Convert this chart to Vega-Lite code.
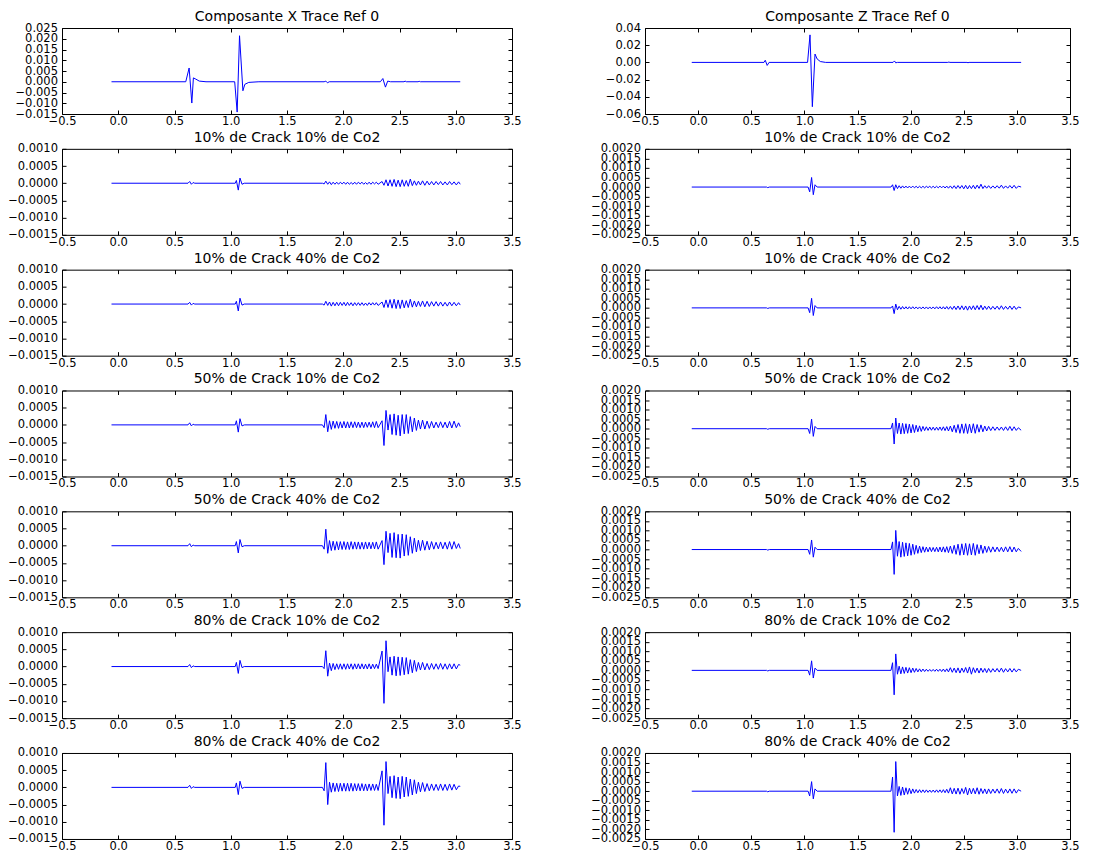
{
"$schema": "https://vega.github.io/schema/vega-lite/v6.json",
"background": "white",
"padding": {"left": 7, "top": 9, "right": 0, "bottom": 0},
"columns": 2,
"spacing": {"row": 34.83, "column": 133},
"bounds": "flush",
"datasets": {
"xr": [{"t":-0.06,"v":0},{"t":0.6,"v":0},{"t":0.63,"v":0.0064},{"t":0.654,"v":-0.0099},{"t":0.668,"v":0.0018},{"t":0.69,"v":0.0012},{"t":0.72,"v":0.0003},{"t":0.78,"v":0},{"t":1.035,"v":0},{"t":1.057,"v":-0.0141},{"t":1.078,"v":0.0214},{"t":1.108,"v":-0.0042},{"t":1.125,"v":-0.0012},{"t":1.16,"v":-0.0003},{"t":1.25,"v":0},{"t":1.83,"v":0},{"t":1.845,"v":0.0003},{"t":1.86,"v":-0.0005},{"t":1.875,"v":0},{"t":2.33,"v":0},{"t":2.352,"v":0.0015},{"t":2.375,"v":-0.0025},{"t":2.395,"v":0.0003},{"t":2.42,"v":0},{"t":2.54,"v":0},{"t":2.55,"v":0.0003},{"t":2.56,"v":0},{"t":2.665,"v":0},{"t":2.675,"v":0.0002},{"t":2.685,"v":0},{"t":3.04,"v":0}],
"zr": [{"t":-0.06,"v":0},{"t":0.62,"v":0},{"t":0.632,"v":0.0025},{"t":0.65,"v":-0.0035},{"t":0.668,"v":0},{"t":1.03,"v":0},{"t":1.053,"v":0.032},{"t":1.075,"v":-0.0515},{"t":1.1,"v":0.0097},{"t":1.12,"v":0.004},{"t":1.15,"v":0.001},{"t":1.2,"v":0},{"t":1.835,"v":0},{"t":1.848,"v":0.0017},{"t":1.86,"v":-0.0005},{"t":1.875,"v":0},{"t":2.35,"v":0},{"t":2.36,"v":0.0004},{"t":2.37,"v":0},{"t":2.53,"v":0},{"t":2.54,"v":-0.0004},{"t":2.55,"v":0},{"t":3.04,"v":0}],
"x1": [{"t":-0.06,"v":0},{"t":0.62,"v":0},{"t":0.635,"v":5e-5},{"t":0.65,"v":-3e-5},{"t":0.665,"v":2e-5},{"t":0.68,"v":0},{"t":1.04,"v":0},{"t":1.05,"v":8e-5},{"t":1.067,"v":-20e-5},{"t":1.082,"v":15e-5},{"t":1.1,"v":-3e-5},{"t":1.12,"v":0},{"t":1.815,"v":0},{"t":1.83,"v":-2e-5},{"t":1.845,"v":6e-5},{"t":1.862,"v":-3e-5},{"t":1.878,"v":4e-5},{"t":1.894,"v":-4e-5},{"t":1.91,"v":3e-5},{"t":1.926,"v":-3e-5},{"t":1.942,"v":3e-5},{"t":1.958,"v":-3e-5},{"t":1.974,"v":3e-5},{"t":1.99,"v":-2e-5},{"t":2.006,"v":3e-5},{"t":2.022,"v":-3e-5},{"t":2.038,"v":3e-5},{"t":2.054,"v":-3e-5},{"t":2.07,"v":2e-5},{"t":2.086,"v":-3e-5},{"t":2.102,"v":3e-5},{"t":2.118,"v":-3e-5},{"t":2.134,"v":3e-5},{"t":2.15,"v":-2e-5},{"t":2.166,"v":3e-5},{"t":2.182,"v":-3e-5},{"t":2.198,"v":2e-5},{"t":2.214,"v":-3e-5},{"t":2.23,"v":3e-5},{"t":2.246,"v":-3e-5},{"t":2.262,"v":3e-5},{"t":2.278,"v":-2e-5},{"t":2.294,"v":3e-5},{"t":2.31,"v":-3e-5},{"t":2.345,"v":5e-5},{"t":2.362,"v":-6e-5},{"t":2.38,"v":10e-5},{"t":2.398,"v":-8e-5},{"t":2.416,"v":10e-5},{"t":2.434,"v":-9e-5},{"t":2.452,"v":11e-5},{"t":2.47,"v":-10e-5},{"t":2.488,"v":9e-5},{"t":2.506,"v":-10e-5},{"t":2.524,"v":10e-5},{"t":2.542,"v":-9e-5},{"t":2.56,"v":8e-5},{"t":2.578,"v":-9e-5},{"t":2.596,"v":12e-5},{"t":2.614,"v":-7e-5},{"t":2.632,"v":7e-5},{"t":2.65,"v":-6e-5},{"t":2.668,"v":6e-5},{"t":2.686,"v":-5e-5},{"t":2.705,"v":7e-5},{"t":2.725,"v":-6e-5},{"t":2.745,"v":6e-5},{"t":2.765,"v":-5e-5},{"t":2.785,"v":5e-5},{"t":2.805,"v":-5e-5},{"t":2.825,"v":5e-5},{"t":2.845,"v":-4e-5},{"t":2.865,"v":5e-5},{"t":2.885,"v":-5e-5},{"t":2.905,"v":4e-5},{"t":2.925,"v":-5e-5},{"t":2.945,"v":5e-5},{"t":2.965,"v":-4e-5},{"t":2.985,"v":4e-5},{"t":3.005,"v":-5e-5},{"t":3.025,"v":4e-5},{"t":3.04,"v":-3e-5}],
"x2": [{"t":-0.06,"v":0},{"t":0.62,"v":0},{"t":0.635,"v":5e-5},{"t":0.65,"v":-3e-5},{"t":0.665,"v":2e-5},{"t":0.68,"v":0},{"t":1.04,"v":0},{"t":1.05,"v":8e-5},{"t":1.067,"v":-20e-5},{"t":1.082,"v":17e-5},{"t":1.1,"v":-3e-5},{"t":1.12,"v":0},{"t":1.815,"v":0},{"t":1.83,"v":-3e-5},{"t":1.845,"v":8e-5},{"t":1.862,"v":-4e-5},{"t":1.878,"v":6e-5},{"t":1.894,"v":-6e-5},{"t":1.91,"v":5e-5},{"t":1.926,"v":-5e-5},{"t":1.942,"v":5e-5},{"t":1.958,"v":-5e-5},{"t":1.974,"v":5e-5},{"t":1.99,"v":-4e-5},{"t":2.006,"v":5e-5},{"t":2.022,"v":-5e-5},{"t":2.038,"v":5e-5},{"t":2.054,"v":-4e-5},{"t":2.07,"v":4e-5},{"t":2.086,"v":-5e-5},{"t":2.102,"v":4e-5},{"t":2.118,"v":-4e-5},{"t":2.134,"v":4e-5},{"t":2.15,"v":-4e-5},{"t":2.166,"v":4e-5},{"t":2.182,"v":-4e-5},{"t":2.198,"v":3e-5},{"t":2.214,"v":-4e-5},{"t":2.23,"v":4e-5},{"t":2.246,"v":-3e-5},{"t":2.262,"v":4e-5},{"t":2.278,"v":-3e-5},{"t":2.294,"v":4e-5},{"t":2.31,"v":-4e-5},{"t":2.345,"v":6e-5},{"t":2.362,"v":-10e-5},{"t":2.38,"v":12e-5},{"t":2.398,"v":-10e-5},{"t":2.416,"v":13e-5},{"t":2.434,"v":-12e-5},{"t":2.452,"v":14e-5},{"t":2.47,"v":-13e-5},{"t":2.488,"v":12e-5},{"t":2.506,"v":-13e-5},{"t":2.524,"v":12e-5},{"t":2.542,"v":-11e-5},{"t":2.56,"v":10e-5},{"t":2.578,"v":-10e-5},{"t":2.596,"v":14e-5},{"t":2.614,"v":-9e-5},{"t":2.632,"v":9e-5},{"t":2.65,"v":-8e-5},{"t":2.668,"v":8e-5},{"t":2.686,"v":-7e-5},{"t":2.705,"v":9e-5},{"t":2.725,"v":-8e-5},{"t":2.745,"v":8e-5},{"t":2.765,"v":-7e-5},{"t":2.785,"v":7e-5},{"t":2.805,"v":-6e-5},{"t":2.825,"v":7e-5},{"t":2.845,"v":-6e-5},{"t":2.865,"v":6e-5},{"t":2.885,"v":-6e-5},{"t":2.905,"v":5e-5},{"t":2.925,"v":-6e-5},{"t":2.945,"v":6e-5},{"t":2.965,"v":-5e-5},{"t":2.985,"v":5e-5},{"t":3.005,"v":-5e-5},{"t":3.025,"v":4e-5},{"t":3.04,"v":-3e-5}],
"x3": [{"t":-0.06,"v":0},{"t":0.62,"v":0},{"t":0.635,"v":6e-5},{"t":0.65,"v":-3e-5},{"t":0.665,"v":2e-5},{"t":0.68,"v":0},{"t":1.04,"v":0},{"t":1.05,"v":12e-5},{"t":1.067,"v":-21e-5},{"t":1.082,"v":18e-5},{"t":1.1,"v":-3e-5},{"t":1.12,"v":0},{"t":1.815,"v":0},{"t":1.83,"v":-8e-5},{"t":1.845,"v":30e-5},{"t":1.862,"v":-20e-5},{"t":1.878,"v":12e-5},{"t":1.894,"v":-13e-5},{"t":1.91,"v":11e-5},{"t":1.926,"v":-10e-5},{"t":1.942,"v":10e-5},{"t":1.958,"v":-10e-5},{"t":1.974,"v":9e-5},{"t":1.99,"v":-9e-5},{"t":2.006,"v":10e-5},{"t":2.022,"v":-9e-5},{"t":2.038,"v":9e-5},{"t":2.054,"v":-9e-5},{"t":2.07,"v":9e-5},{"t":2.086,"v":-8e-5},{"t":2.102,"v":9e-5},{"t":2.118,"v":-8e-5},{"t":2.134,"v":8e-5},{"t":2.15,"v":-8e-5},{"t":2.166,"v":8e-5},{"t":2.182,"v":-8e-5},{"t":2.198,"v":8e-5},{"t":2.214,"v":-7e-5},{"t":2.23,"v":8e-5},{"t":2.246,"v":-7e-5},{"t":2.262,"v":9e-5},{"t":2.278,"v":-8e-5},{"t":2.294,"v":10e-5},{"t":2.31,"v":-8e-5},{"t":2.345,"v":12e-5},{"t":2.362,"v":-60e-5},{"t":2.38,"v":42e-5},{"t":2.398,"v":-15e-5},{"t":2.416,"v":30e-5},{"t":2.434,"v":-28e-5},{"t":2.452,"v":32e-5},{"t":2.47,"v":-30e-5},{"t":2.488,"v":28e-5},{"t":2.506,"v":-32e-5},{"t":2.524,"v":30e-5},{"t":2.542,"v":-26e-5},{"t":2.56,"v":30e-5},{"t":2.578,"v":-25e-5},{"t":2.596,"v":24e-5},{"t":2.614,"v":-20e-5},{"t":2.632,"v":20e-5},{"t":2.65,"v":-16e-5},{"t":2.668,"v":14e-5},{"t":2.686,"v":-12e-5},{"t":2.705,"v":14e-5},{"t":2.725,"v":-12e-5},{"t":2.745,"v":11e-5},{"t":2.765,"v":-10e-5},{"t":2.785,"v":10e-5},{"t":2.805,"v":-9e-5},{"t":2.825,"v":8e-5},{"t":2.845,"v":-8e-5},{"t":2.865,"v":9e-5},{"t":2.885,"v":-8e-5},{"t":2.905,"v":8e-5},{"t":2.925,"v":-9e-5},{"t":2.945,"v":10e-5},{"t":2.965,"v":-9e-5},{"t":2.985,"v":11e-5},{"t":3.005,"v":-8e-5},{"t":3.025,"v":6e-5},{"t":3.04,"v":-5e-5}],
"x4": [{"t":-0.06,"v":0},{"t":0.62,"v":0},{"t":0.635,"v":6e-5},{"t":0.65,"v":-3e-5},{"t":0.665,"v":2e-5},{"t":0.68,"v":0},{"t":1.04,"v":0},{"t":1.05,"v":12e-5},{"t":1.067,"v":-21e-5},{"t":1.082,"v":18e-5},{"t":1.1,"v":-3e-5},{"t":1.12,"v":0},{"t":1.815,"v":0},{"t":1.83,"v":-10e-5},{"t":1.845,"v":48e-5},{"t":1.862,"v":-22e-5},{"t":1.878,"v":15e-5},{"t":1.894,"v":-14e-5},{"t":1.91,"v":13e-5},{"t":1.926,"v":-13e-5},{"t":1.942,"v":12e-5},{"t":1.958,"v":-12e-5},{"t":1.974,"v":12e-5},{"t":1.99,"v":-11e-5},{"t":2.006,"v":12e-5},{"t":2.022,"v":-11e-5},{"t":2.038,"v":11e-5},{"t":2.054,"v":-11e-5},{"t":2.07,"v":12e-5},{"t":2.086,"v":-10e-5},{"t":2.102,"v":11e-5},{"t":2.118,"v":-10e-5},{"t":2.134,"v":11e-5},{"t":2.15,"v":-10e-5},{"t":2.166,"v":10e-5},{"t":2.182,"v":-10e-5},{"t":2.198,"v":11e-5},{"t":2.214,"v":-9e-5},{"t":2.23,"v":10e-5},{"t":2.246,"v":-9e-5},{"t":2.262,"v":10e-5},{"t":2.278,"v":-9e-5},{"t":2.294,"v":11e-5},{"t":2.31,"v":-10e-5},{"t":2.345,"v":15e-5},{"t":2.362,"v":-55e-5},{"t":2.38,"v":42e-5},{"t":2.398,"v":-20e-5},{"t":2.416,"v":36e-5},{"t":2.434,"v":-34e-5},{"t":2.452,"v":38e-5},{"t":2.47,"v":-35e-5},{"t":2.488,"v":33e-5},{"t":2.506,"v":-36e-5},{"t":2.524,"v":34e-5},{"t":2.542,"v":-30e-5},{"t":2.56,"v":32e-5},{"t":2.578,"v":-28e-5},{"t":2.596,"v":26e-5},{"t":2.614,"v":-22e-5},{"t":2.632,"v":22e-5},{"t":2.65,"v":-18e-5},{"t":2.668,"v":16e-5},{"t":2.686,"v":-14e-5},{"t":2.705,"v":16e-5},{"t":2.725,"v":-13e-5},{"t":2.745,"v":13e-5},{"t":2.765,"v":-12e-5},{"t":2.785,"v":12e-5},{"t":2.805,"v":-10e-5},{"t":2.825,"v":10e-5},{"t":2.845,"v":-9e-5},{"t":2.865,"v":11e-5},{"t":2.885,"v":-9e-5},{"t":2.905,"v":10e-5},{"t":2.925,"v":-10e-5},{"t":2.945,"v":12e-5},{"t":2.965,"v":-10e-5},{"t":2.985,"v":12e-5},{"t":3.005,"v":-8e-5},{"t":3.025,"v":6e-5},{"t":3.04,"v":-8e-5}],
"x5": [{"t":-0.06,"v":0},{"t":0.62,"v":0},{"t":0.635,"v":6e-5},{"t":0.65,"v":-3e-5},{"t":0.665,"v":2e-5},{"t":0.68,"v":0},{"t":1.04,"v":0},{"t":1.05,"v":12e-5},{"t":1.067,"v":-20e-5},{"t":1.082,"v":18e-5},{"t":1.1,"v":-3e-5},{"t":1.12,"v":0},{"t":1.815,"v":0},{"t":1.83,"v":-6e-5},{"t":1.845,"v":46e-5},{"t":1.862,"v":-28e-5},{"t":1.878,"v":10e-5},{"t":1.894,"v":-12e-5},{"t":1.91,"v":9e-5},{"t":1.926,"v":-9e-5},{"t":1.942,"v":8e-5},{"t":1.958,"v":-8e-5},{"t":1.974,"v":8e-5},{"t":1.99,"v":-8e-5},{"t":2.006,"v":8e-5},{"t":2.022,"v":-8e-5},{"t":2.038,"v":8e-5},{"t":2.054,"v":-7e-5},{"t":2.07,"v":8e-5},{"t":2.086,"v":-8e-5},{"t":2.102,"v":8e-5},{"t":2.118,"v":-7e-5},{"t":2.134,"v":8e-5},{"t":2.15,"v":-7e-5},{"t":2.166,"v":8e-5},{"t":2.182,"v":-7e-5},{"t":2.198,"v":7e-5},{"t":2.214,"v":-7e-5},{"t":2.23,"v":8e-5},{"t":2.246,"v":-7e-5},{"t":2.262,"v":7e-5},{"t":2.278,"v":-6e-5},{"t":2.294,"v":7e-5},{"t":2.31,"v":-6e-5},{"t":2.345,"v":45e-5},{"t":2.362,"v":-107e-5},{"t":2.38,"v":75e-5},{"t":2.398,"v":-15e-5},{"t":2.416,"v":28e-5},{"t":2.434,"v":-25e-5},{"t":2.452,"v":30e-5},{"t":2.47,"v":-27e-5},{"t":2.488,"v":28e-5},{"t":2.506,"v":-26e-5},{"t":2.524,"v":27e-5},{"t":2.542,"v":-24e-5},{"t":2.56,"v":26e-5},{"t":2.578,"v":-22e-5},{"t":2.596,"v":20e-5},{"t":2.614,"v":-18e-5},{"t":2.632,"v":18e-5},{"t":2.65,"v":-14e-5},{"t":2.668,"v":12e-5},{"t":2.686,"v":-10e-5},{"t":2.705,"v":12e-5},{"t":2.725,"v":-10e-5},{"t":2.745,"v":9e-5},{"t":2.765,"v":-9e-5},{"t":2.785,"v":9e-5},{"t":2.805,"v":-8e-5},{"t":2.825,"v":8e-5},{"t":2.845,"v":-8e-5},{"t":2.865,"v":9e-5},{"t":2.885,"v":-8e-5},{"t":2.905,"v":8e-5},{"t":2.925,"v":-8e-5},{"t":2.945,"v":8e-5},{"t":2.965,"v":-7e-5},{"t":2.985,"v":8e-5},{"t":3.005,"v":-7e-5},{"t":3.025,"v":6e-5},{"t":3.04,"v":4e-5}],
"x6": [{"t":-0.06,"v":0},{"t":0.62,"v":0},{"t":0.635,"v":6e-5},{"t":0.65,"v":-3e-5},{"t":0.665,"v":2e-5},{"t":0.68,"v":0},{"t":1.04,"v":0},{"t":1.05,"v":13e-5},{"t":1.067,"v":-21e-5},{"t":1.082,"v":18e-5},{"t":1.1,"v":-3e-5},{"t":1.12,"v":0},{"t":1.815,"v":0},{"t":1.83,"v":-10e-5},{"t":1.845,"v":72e-5},{"t":1.862,"v":-50e-5},{"t":1.878,"v":15e-5},{"t":1.894,"v":-14e-5},{"t":1.91,"v":13e-5},{"t":1.926,"v":-12e-5},{"t":1.942,"v":12e-5},{"t":1.958,"v":-12e-5},{"t":1.974,"v":12e-5},{"t":1.99,"v":-11e-5},{"t":2.006,"v":12e-5},{"t":2.022,"v":-11e-5},{"t":2.038,"v":12e-5},{"t":2.054,"v":-11e-5},{"t":2.07,"v":12e-5},{"t":2.086,"v":-11e-5},{"t":2.102,"v":11e-5},{"t":2.118,"v":-10e-5},{"t":2.134,"v":11e-5},{"t":2.15,"v":-10e-5},{"t":2.166,"v":11e-5},{"t":2.182,"v":-10e-5},{"t":2.198,"v":10e-5},{"t":2.214,"v":-10e-5},{"t":2.23,"v":10e-5},{"t":2.246,"v":-9e-5},{"t":2.262,"v":10e-5},{"t":2.278,"v":-9e-5},{"t":2.294,"v":9e-5},{"t":2.31,"v":-9e-5},{"t":2.345,"v":48e-5},{"t":2.362,"v":-110e-5},{"t":2.38,"v":75e-5},{"t":2.398,"v":-18e-5},{"t":2.416,"v":32e-5},{"t":2.434,"v":-30e-5},{"t":2.452,"v":34e-5},{"t":2.47,"v":-32e-5},{"t":2.488,"v":30e-5},{"t":2.506,"v":-33e-5},{"t":2.524,"v":32e-5},{"t":2.542,"v":-28e-5},{"t":2.56,"v":30e-5},{"t":2.578,"v":-26e-5},{"t":2.596,"v":24e-5},{"t":2.614,"v":-22e-5},{"t":2.632,"v":22e-5},{"t":2.65,"v":-18e-5},{"t":2.668,"v":15e-5},{"t":2.686,"v":-13e-5},{"t":2.705,"v":14e-5},{"t":2.725,"v":-12e-5},{"t":2.745,"v":11e-5},{"t":2.765,"v":-10e-5},{"t":2.785,"v":10e-5},{"t":2.805,"v":-9e-5},{"t":2.825,"v":9e-5},{"t":2.845,"v":-9e-5},{"t":2.865,"v":10e-5},{"t":2.885,"v":-9e-5},{"t":2.905,"v":9e-5},{"t":2.925,"v":-9e-5},{"t":2.945,"v":10e-5},{"t":2.965,"v":-8e-5},{"t":2.985,"v":9e-5},{"t":3.005,"v":-7e-5},{"t":3.025,"v":4e-5},{"t":3.04,"v":3e-5}],
"z1": [{"t":-0.06,"v":0},{"t":0.645,"v":0},{"t":0.655,"v":-3e-5},{"t":0.67,"v":0},{"t":1.035,"v":0},{"t":1.05,"v":-25e-5},{"t":1.068,"v":50e-5},{"t":1.084,"v":-40e-5},{"t":1.1,"v":12e-5},{"t":1.12,"v":0},{"t":1.815,"v":0},{"t":1.83,"v":12e-5},{"t":1.845,"v":-18e-5},{"t":1.86,"v":12e-5},{"t":1.876,"v":-8e-5},{"t":1.892,"v":7e-5},{"t":1.908,"v":-6e-5},{"t":1.924,"v":6e-5},{"t":1.94,"v":-5e-5},{"t":1.956,"v":5e-5},{"t":1.972,"v":-5e-5},{"t":1.988,"v":5e-5},{"t":2.004,"v":-4e-5},{"t":2.02,"v":5e-5},{"t":2.036,"v":-4e-5},{"t":2.052,"v":4e-5},{"t":2.068,"v":-4e-5},{"t":2.084,"v":4e-5},{"t":2.1,"v":-4e-5},{"t":2.116,"v":4e-5},{"t":2.132,"v":-4e-5},{"t":2.148,"v":4e-5},{"t":2.164,"v":-3e-5},{"t":2.18,"v":4e-5},{"t":2.196,"v":-4e-5},{"t":2.212,"v":4e-5},{"t":2.228,"v":-4e-5},{"t":2.244,"v":4e-5},{"t":2.26,"v":-4e-5},{"t":2.276,"v":5e-5},{"t":2.292,"v":-4e-5},{"t":2.308,"v":5e-5},{"t":2.324,"v":-5e-5},{"t":2.34,"v":5e-5},{"t":2.356,"v":-6e-5},{"t":2.374,"v":6e-5},{"t":2.392,"v":-7e-5},{"t":2.41,"v":7e-5},{"t":2.428,"v":-8e-5},{"t":2.446,"v":8e-5},{"t":2.464,"v":-7e-5},{"t":2.482,"v":8e-5},{"t":2.5,"v":-9e-5},{"t":2.518,"v":9e-5},{"t":2.536,"v":-10e-5},{"t":2.554,"v":8e-5},{"t":2.572,"v":-8e-5},{"t":2.59,"v":9e-5},{"t":2.608,"v":-9e-5},{"t":2.626,"v":10e-5},{"t":2.644,"v":-7e-5},{"t":2.662,"v":15e-5},{"t":2.68,"v":-8e-5},{"t":2.698,"v":7e-5},{"t":2.716,"v":-6e-5},{"t":2.734,"v":7e-5},{"t":2.754,"v":-7e-5},{"t":2.774,"v":6e-5},{"t":2.794,"v":-6e-5},{"t":2.814,"v":7e-5},{"t":2.834,"v":-6e-5},{"t":2.854,"v":10e-5},{"t":2.874,"v":-7e-5},{"t":2.894,"v":6e-5},{"t":2.914,"v":-6e-5},{"t":2.934,"v":8e-5},{"t":2.954,"v":-6e-5},{"t":2.974,"v":9e-5},{"t":2.994,"v":-7e-5},{"t":3.014,"v":5e-5},{"t":3.04,"v":0}],
"z2": [{"t":-0.06,"v":0},{"t":0.645,"v":0},{"t":0.655,"v":-3e-5},{"t":0.67,"v":0},{"t":1.035,"v":0},{"t":1.05,"v":-25e-5},{"t":1.068,"v":50e-5},{"t":1.084,"v":-40e-5},{"t":1.1,"v":12e-5},{"t":1.12,"v":0},{"t":1.815,"v":0},{"t":1.83,"v":10e-5},{"t":1.845,"v":-30e-5},{"t":1.86,"v":20e-5},{"t":1.876,"v":-10e-5},{"t":1.892,"v":8e-5},{"t":1.908,"v":-7e-5},{"t":1.924,"v":7e-5},{"t":1.94,"v":-6e-5},{"t":1.956,"v":6e-5},{"t":1.972,"v":-6e-5},{"t":1.988,"v":6e-5},{"t":2.004,"v":-5e-5},{"t":2.02,"v":6e-5},{"t":2.036,"v":-5e-5},{"t":2.052,"v":5e-5},{"t":2.068,"v":-5e-5},{"t":2.084,"v":5e-5},{"t":2.1,"v":-5e-5},{"t":2.116,"v":5e-5},{"t":2.132,"v":-5e-5},{"t":2.148,"v":5e-5},{"t":2.164,"v":-5e-5},{"t":2.18,"v":5e-5},{"t":2.196,"v":-5e-5},{"t":2.212,"v":5e-5},{"t":2.228,"v":-5e-5},{"t":2.244,"v":6e-5},{"t":2.26,"v":-5e-5},{"t":2.276,"v":6e-5},{"t":2.292,"v":-6e-5},{"t":2.308,"v":6e-5},{"t":2.324,"v":-6e-5},{"t":2.34,"v":7e-5},{"t":2.356,"v":-7e-5},{"t":2.374,"v":7e-5},{"t":2.392,"v":-8e-5},{"t":2.41,"v":9e-5},{"t":2.428,"v":-9e-5},{"t":2.446,"v":10e-5},{"t":2.464,"v":-9e-5},{"t":2.482,"v":11e-5},{"t":2.5,"v":-10e-5},{"t":2.518,"v":10e-5},{"t":2.536,"v":-12e-5},{"t":2.554,"v":10e-5},{"t":2.572,"v":-9e-5},{"t":2.59,"v":11e-5},{"t":2.608,"v":-10e-5},{"t":2.626,"v":12e-5},{"t":2.644,"v":-9e-5},{"t":2.662,"v":14e-5},{"t":2.68,"v":-10e-5},{"t":2.698,"v":9e-5},{"t":2.716,"v":-8e-5},{"t":2.734,"v":9e-5},{"t":2.754,"v":-8e-5},{"t":2.774,"v":8e-5},{"t":2.794,"v":-7e-5},{"t":2.814,"v":9e-5},{"t":2.834,"v":-8e-5},{"t":2.854,"v":11e-5},{"t":2.874,"v":-8e-5},{"t":2.894,"v":8e-5},{"t":2.914,"v":-7e-5},{"t":2.934,"v":10e-5},{"t":2.954,"v":-8e-5},{"t":2.974,"v":9e-5},{"t":2.994,"v":-8e-5},{"t":3.014,"v":5e-5},{"t":3.04,"v":0}],
"z3": [{"t":-0.06,"v":0},{"t":0.645,"v":0},{"t":0.655,"v":-3e-5},{"t":0.67,"v":0},{"t":1.035,"v":0},{"t":1.05,"v":-25e-5},{"t":1.068,"v":50e-5},{"t":1.084,"v":-40e-5},{"t":1.1,"v":12e-5},{"t":1.12,"v":0},{"t":1.815,"v":0},{"t":1.83,"v":30e-5},{"t":1.845,"v":-80e-5},{"t":1.86,"v":56e-5},{"t":1.876,"v":-25e-5},{"t":1.892,"v":30e-5},{"t":1.908,"v":-28e-5},{"t":1.924,"v":28e-5},{"t":1.94,"v":-26e-5},{"t":1.956,"v":26e-5},{"t":1.972,"v":-24e-5},{"t":1.988,"v":24e-5},{"t":2.004,"v":-22e-5},{"t":2.02,"v":22e-5},{"t":2.036,"v":-20e-5},{"t":2.052,"v":18e-5},{"t":2.068,"v":-16e-5},{"t":2.084,"v":15e-5},{"t":2.1,"v":-14e-5},{"t":2.116,"v":12e-5},{"t":2.132,"v":-10e-5},{"t":2.148,"v":10e-5},{"t":2.164,"v":-9e-5},{"t":2.18,"v":9e-5},{"t":2.196,"v":-8e-5},{"t":2.212,"v":8e-5},{"t":2.228,"v":-8e-5},{"t":2.244,"v":8e-5},{"t":2.26,"v":-8e-5},{"t":2.276,"v":9e-5},{"t":2.292,"v":-9e-5},{"t":2.308,"v":10e-5},{"t":2.324,"v":-10e-5},{"t":2.34,"v":11e-5},{"t":2.356,"v":-12e-5},{"t":2.374,"v":14e-5},{"t":2.392,"v":-16e-5},{"t":2.41,"v":18e-5},{"t":2.428,"v":-20e-5},{"t":2.446,"v":22e-5},{"t":2.464,"v":-24e-5},{"t":2.482,"v":25e-5},{"t":2.5,"v":-24e-5},{"t":2.518,"v":26e-5},{"t":2.536,"v":-25e-5},{"t":2.554,"v":24e-5},{"t":2.572,"v":-22e-5},{"t":2.59,"v":26e-5},{"t":2.608,"v":-24e-5},{"t":2.626,"v":22e-5},{"t":2.644,"v":-18e-5},{"t":2.662,"v":20e-5},{"t":2.68,"v":-16e-5},{"t":2.698,"v":14e-5},{"t":2.716,"v":-12e-5},{"t":2.734,"v":12e-5},{"t":2.754,"v":-10e-5},{"t":2.774,"v":10e-5},{"t":2.794,"v":-9e-5},{"t":2.814,"v":9e-5},{"t":2.834,"v":-8e-5},{"t":2.854,"v":9e-5},{"t":2.874,"v":-9e-5},{"t":2.894,"v":10e-5},{"t":2.914,"v":-9e-5},{"t":2.934,"v":12e-5},{"t":2.954,"v":-10e-5},{"t":2.974,"v":10e-5},{"t":2.994,"v":-9e-5},{"t":3.014,"v":5e-5},{"t":3.04,"v":-8e-5}],
"z4": [{"t":-0.06,"v":0},{"t":0.645,"v":0},{"t":0.655,"v":-3e-5},{"t":0.67,"v":0},{"t":1.035,"v":0},{"t":1.05,"v":-25e-5},{"t":1.068,"v":50e-5},{"t":1.084,"v":-40e-5},{"t":1.1,"v":12e-5},{"t":1.12,"v":0},{"t":1.815,"v":0},{"t":1.83,"v":40e-5},{"t":1.845,"v":-130e-5},{"t":1.86,"v":100e-5},{"t":1.876,"v":-35e-5},{"t":1.892,"v":42e-5},{"t":1.908,"v":-40e-5},{"t":1.924,"v":38e-5},{"t":1.94,"v":-36e-5},{"t":1.956,"v":35e-5},{"t":1.972,"v":-33e-5},{"t":1.988,"v":32e-5},{"t":2.004,"v":-30e-5},{"t":2.02,"v":28e-5},{"t":2.036,"v":-25e-5},{"t":2.052,"v":22e-5},{"t":2.068,"v":-20e-5},{"t":2.084,"v":18e-5},{"t":2.1,"v":-16e-5},{"t":2.116,"v":15e-5},{"t":2.132,"v":-14e-5},{"t":2.148,"v":13e-5},{"t":2.164,"v":-12e-5},{"t":2.18,"v":12e-5},{"t":2.196,"v":-11e-5},{"t":2.212,"v":11e-5},{"t":2.228,"v":-11e-5},{"t":2.244,"v":12e-5},{"t":2.26,"v":-12e-5},{"t":2.276,"v":13e-5},{"t":2.292,"v":-13e-5},{"t":2.308,"v":14e-5},{"t":2.324,"v":-14e-5},{"t":2.34,"v":15e-5},{"t":2.356,"v":-16e-5},{"t":2.374,"v":18e-5},{"t":2.392,"v":-20e-5},{"t":2.41,"v":22e-5},{"t":2.428,"v":-25e-5},{"t":2.446,"v":28e-5},{"t":2.464,"v":-30e-5},{"t":2.482,"v":30e-5},{"t":2.5,"v":-28e-5},{"t":2.518,"v":32e-5},{"t":2.536,"v":-30e-5},{"t":2.554,"v":30e-5},{"t":2.572,"v":-28e-5},{"t":2.59,"v":32e-5},{"t":2.608,"v":-30e-5},{"t":2.626,"v":26e-5},{"t":2.644,"v":-22e-5},{"t":2.662,"v":24e-5},{"t":2.68,"v":-20e-5},{"t":2.698,"v":18e-5},{"t":2.716,"v":-15e-5},{"t":2.734,"v":16e-5},{"t":2.754,"v":-14e-5},{"t":2.774,"v":14e-5},{"t":2.794,"v":-12e-5},{"t":2.814,"v":13e-5},{"t":2.834,"v":-11e-5},{"t":2.854,"v":12e-5},{"t":2.874,"v":-12e-5},{"t":2.894,"v":14e-5},{"t":2.914,"v":-12e-5},{"t":2.934,"v":15e-5},{"t":2.954,"v":-13e-5},{"t":2.974,"v":13e-5},{"t":2.994,"v":-12e-5},{"t":3.014,"v":6e-5},{"t":3.04,"v":-10e-5}],
"z5": [{"t":-0.06,"v":0},{"t":0.645,"v":0},{"t":0.655,"v":-3e-5},{"t":0.67,"v":0},{"t":1.035,"v":0},{"t":1.05,"v":-25e-5},{"t":1.068,"v":50e-5},{"t":1.084,"v":-40e-5},{"t":1.1,"v":12e-5},{"t":1.12,"v":0},{"t":1.815,"v":0},{"t":1.83,"v":40e-5},{"t":1.845,"v":-128e-5},{"t":1.86,"v":86e-5},{"t":1.876,"v":-20e-5},{"t":1.892,"v":22e-5},{"t":1.908,"v":-18e-5},{"t":1.924,"v":18e-5},{"t":1.94,"v":-16e-5},{"t":1.956,"v":16e-5},{"t":1.972,"v":-14e-5},{"t":1.988,"v":14e-5},{"t":2.004,"v":-12e-5},{"t":2.02,"v":12e-5},{"t":2.036,"v":-10e-5},{"t":2.052,"v":10e-5},{"t":2.068,"v":-8e-5},{"t":2.084,"v":8e-5},{"t":2.1,"v":-7e-5},{"t":2.116,"v":7e-5},{"t":2.132,"v":-6e-5},{"t":2.148,"v":6e-5},{"t":2.164,"v":-5e-5},{"t":2.18,"v":5e-5},{"t":2.196,"v":-5e-5},{"t":2.212,"v":5e-5},{"t":2.228,"v":-5e-5},{"t":2.244,"v":6e-5},{"t":2.26,"v":-5e-5},{"t":2.276,"v":6e-5},{"t":2.292,"v":-6e-5},{"t":2.308,"v":7e-5},{"t":2.324,"v":-7e-5},{"t":2.34,"v":8e-5},{"t":2.356,"v":-8e-5},{"t":2.374,"v":14e-5},{"t":2.392,"v":-10e-5},{"t":2.41,"v":12e-5},{"t":2.428,"v":-12e-5},{"t":2.446,"v":13e-5},{"t":2.464,"v":-14e-5},{"t":2.482,"v":12e-5},{"t":2.5,"v":-10e-5},{"t":2.518,"v":15e-5},{"t":2.536,"v":-14e-5},{"t":2.554,"v":18e-5},{"t":2.572,"v":-20e-5},{"t":2.59,"v":14e-5},{"t":2.608,"v":-12e-5},{"t":2.626,"v":12e-5},{"t":2.644,"v":-14e-5},{"t":2.662,"v":12e-5},{"t":2.68,"v":-10e-5},{"t":2.698,"v":10e-5},{"t":2.716,"v":-12e-5},{"t":2.734,"v":10e-5},{"t":2.754,"v":-10e-5},{"t":2.774,"v":9e-5},{"t":2.794,"v":-8e-5},{"t":2.814,"v":10e-5},{"t":2.834,"v":-9e-5},{"t":2.854,"v":12e-5},{"t":2.874,"v":-10e-5},{"t":2.894,"v":9e-5},{"t":2.914,"v":-8e-5},{"t":2.934,"v":10e-5},{"t":2.954,"v":-9e-5},{"t":2.974,"v":9e-5},{"t":2.994,"v":-8e-5},{"t":3.014,"v":6e-5},{"t":3.04,"v":0}],
"z6": [{"t":-0.06,"v":0},{"t":0.645,"v":0},{"t":0.655,"v":-3e-5},{"t":0.67,"v":0},{"t":1.035,"v":0},{"t":1.05,"v":-25e-5},{"t":1.068,"v":50e-5},{"t":1.084,"v":-40e-5},{"t":1.1,"v":12e-5},{"t":1.12,"v":0},{"t":1.815,"v":0},{"t":1.83,"v":74e-5},{"t":1.845,"v":-215e-5},{"t":1.86,"v":155e-5},{"t":1.876,"v":-25e-5},{"t":1.892,"v":25e-5},{"t":1.908,"v":-22e-5},{"t":1.924,"v":22e-5},{"t":1.94,"v":-20e-5},{"t":1.956,"v":18e-5},{"t":1.972,"v":-16e-5},{"t":1.988,"v":15e-5},{"t":2.004,"v":-13e-5},{"t":2.02,"v":12e-5},{"t":2.036,"v":-10e-5},{"t":2.052,"v":9e-5},{"t":2.068,"v":-8e-5},{"t":2.084,"v":8e-5},{"t":2.1,"v":-7e-5},{"t":2.116,"v":7e-5},{"t":2.132,"v":-7e-5},{"t":2.148,"v":7e-5},{"t":2.164,"v":-6e-5},{"t":2.18,"v":6e-5},{"t":2.196,"v":-6e-5},{"t":2.212,"v":6e-5},{"t":2.228,"v":-6e-5},{"t":2.244,"v":7e-5},{"t":2.26,"v":-6e-5},{"t":2.276,"v":7e-5},{"t":2.292,"v":-7e-5},{"t":2.308,"v":8e-5},{"t":2.324,"v":-8e-5},{"t":2.34,"v":10e-5},{"t":2.356,"v":-10e-5},{"t":2.374,"v":18e-5},{"t":2.392,"v":-14e-5},{"t":2.41,"v":15e-5},{"t":2.428,"v":-15e-5},{"t":2.446,"v":16e-5},{"t":2.464,"v":-16e-5},{"t":2.482,"v":14e-5},{"t":2.5,"v":-12e-5},{"t":2.518,"v":20e-5},{"t":2.536,"v":-20e-5},{"t":2.554,"v":16e-5},{"t":2.572,"v":-14e-5},{"t":2.59,"v":15e-5},{"t":2.608,"v":-14e-5},{"t":2.626,"v":18e-5},{"t":2.644,"v":-16e-5},{"t":2.662,"v":14e-5},{"t":2.68,"v":-12e-5},{"t":2.698,"v":12e-5},{"t":2.716,"v":-14e-5},{"t":2.734,"v":12e-5},{"t":2.754,"v":-12e-5},{"t":2.774,"v":11e-5},{"t":2.794,"v":-10e-5},{"t":2.814,"v":12e-5},{"t":2.834,"v":-11e-5},{"t":2.854,"v":14e-5},{"t":2.874,"v":-12e-5},{"t":2.894,"v":11e-5},{"t":2.914,"v":-10e-5},{"t":2.934,"v":12e-5},{"t":2.954,"v":-11e-5},{"t":2.974,"v":12e-5},{"t":2.994,"v":-10e-5},{"t":3.014,"v":8e-5},{"t":3.04,"v":0}]
},
"concat": [
{"title": "Composante X Trace Ref 0", "width": 450, "height": 86, "data": {"name": "xr"},
 "layer": [
  {"mark": {"type": "line", "color": "#0000ff", "strokeWidth": 1},
   "encoding": {"x": {"field": "t", "type": "quantitative", "scale": {"domain": [-0.5, 3.5], "nice": false, "zero": false}, "axis": {"orient": "bottom", "values": [-0.5,0,0.5,1,1.5,2,2.5,3,3.5], "format": ".1f", "title": null}},
                "y": {"field": "v", "type": "quantitative", "scale": {"domain": [-0.015, 0.025], "nice": false, "zero": false}, "axis": {"orient": "left", "values": [-0.015,-0.01,-0.005,0,0.005,0.01,0.015,0.02,0.025], "format": ".3f", "title": null}}}},
  {"mark": {"type": "line", "opacity": 0},
   "encoding": {"x": {"field": "t", "type": "quantitative", "axis": {"orient": "top", "values": [-0.5,0,0.5,1,1.5,2,2.5,3,3.5], "labels": false, "title": null}},
                "y": {"field": "v", "type": "quantitative", "axis": {"orient": "right", "values": [-0.015,-0.01,-0.005,0,0.005,0.01,0.015,0.02,0.025], "labels": false, "title": null}}}}
 ],
 "resolve": {"axis": {"x": "independent", "y": "independent"}}},
{"title": "Composante Z Trace Ref 0", "width": 425, "height": 86, "data": {"name": "zr"},
 "layer": [
  {"mark": {"type": "line", "color": "#0000ff", "strokeWidth": 1},
   "encoding": {"x": {"field": "t", "type": "quantitative", "scale": {"domain": [-0.5, 3.5], "nice": false, "zero": false}, "axis": {"orient": "bottom", "values": [-0.5,0,0.5,1,1.5,2,2.5,3,3.5], "format": ".1f", "title": null}},
                "y": {"field": "v", "type": "quantitative", "scale": {"domain": [-0.06, 0.04], "nice": false, "zero": false}, "axis": {"orient": "left", "values": [-0.06,-0.04,-0.02,0,0.02,0.04], "format": ".2f", "title": null}}}},
  {"mark": {"type": "line", "opacity": 0},
   "encoding": {"x": {"field": "t", "type": "quantitative", "axis": {"orient": "top", "values": [-0.5,0,0.5,1,1.5,2,2.5,3,3.5], "labels": false, "title": null}},
                "y": {"field": "v", "type": "quantitative", "axis": {"orient": "right", "values": [-0.06,-0.04,-0.02,0,0.02,0.04], "labels": false, "title": null}}}}
 ],
 "resolve": {"axis": {"x": "independent", "y": "independent"}}},
{"title": "10% de Crack 10% de Co2", "width": 450, "height": 86, "data": {"name": "x1"},
 "layer": [
  {"mark": {"type": "line", "color": "#0000ff", "strokeWidth": 1},
   "encoding": {"x": {"field": "t", "type": "quantitative", "scale": {"domain": [-0.5, 3.5], "nice": false, "zero": false}, "axis": {"orient": "bottom", "values": [-0.5,0,0.5,1,1.5,2,2.5,3,3.5], "format": ".1f", "title": null}},
                "y": {"field": "v", "type": "quantitative", "scale": {"domain": [-0.0015, 0.001], "nice": false, "zero": false}, "axis": {"orient": "left", "values": [-0.0015,-0.001,-0.0005,0,0.0005,0.001], "format": ".4f", "title": null}}}},
  {"mark": {"type": "line", "opacity": 0},
   "encoding": {"x": {"field": "t", "type": "quantitative", "axis": {"orient": "top", "values": [-0.5,0,0.5,1,1.5,2,2.5,3,3.5], "labels": false, "title": null}},
                "y": {"field": "v", "type": "quantitative", "axis": {"orient": "right", "values": [-0.0015,-0.001,-0.0005,0,0.0005,0.001], "labels": false, "title": null}}}}
 ],
 "resolve": {"axis": {"x": "independent", "y": "independent"}}},
{"title": "10% de Crack 10% de Co2", "width": 425, "height": 86, "data": {"name": "z1"},
 "layer": [
  {"mark": {"type": "line", "color": "#0000ff", "strokeWidth": 1},
   "encoding": {"x": {"field": "t", "type": "quantitative", "scale": {"domain": [-0.5, 3.5], "nice": false, "zero": false}, "axis": {"orient": "bottom", "values": [-0.5,0,0.5,1,1.5,2,2.5,3,3.5], "format": ".1f", "title": null}},
                "y": {"field": "v", "type": "quantitative", "scale": {"domain": [-0.0025, 0.002], "nice": false, "zero": false}, "axis": {"orient": "left", "values": [-0.0025,-0.002,-0.0015,-0.001,-0.0005,0,0.0005,0.001,0.0015,0.002], "format": ".4f", "title": null}}}},
  {"mark": {"type": "line", "opacity": 0},
   "encoding": {"x": {"field": "t", "type": "quantitative", "axis": {"orient": "top", "values": [-0.5,0,0.5,1,1.5,2,2.5,3,3.5], "labels": false, "title": null}},
                "y": {"field": "v", "type": "quantitative", "axis": {"orient": "right", "values": [-0.0025,-0.002,-0.0015,-0.001,-0.0005,0,0.0005,0.001,0.0015,0.002], "labels": false, "title": null}}}}
 ],
 "resolve": {"axis": {"x": "independent", "y": "independent"}}},
{"title": "10% de Crack 40% de Co2", "width": 450, "height": 86, "data": {"name": "x2"},
 "layer": [
  {"mark": {"type": "line", "color": "#0000ff", "strokeWidth": 1},
   "encoding": {"x": {"field": "t", "type": "quantitative", "scale": {"domain": [-0.5, 3.5], "nice": false, "zero": false}, "axis": {"orient": "bottom", "values": [-0.5,0,0.5,1,1.5,2,2.5,3,3.5], "format": ".1f", "title": null}},
                "y": {"field": "v", "type": "quantitative", "scale": {"domain": [-0.0015, 0.001], "nice": false, "zero": false}, "axis": {"orient": "left", "values": [-0.0015,-0.001,-0.0005,0,0.0005,0.001], "format": ".4f", "title": null}}}},
  {"mark": {"type": "line", "opacity": 0},
   "encoding": {"x": {"field": "t", "type": "quantitative", "axis": {"orient": "top", "values": [-0.5,0,0.5,1,1.5,2,2.5,3,3.5], "labels": false, "title": null}},
                "y": {"field": "v", "type": "quantitative", "axis": {"orient": "right", "values": [-0.0015,-0.001,-0.0005,0,0.0005,0.001], "labels": false, "title": null}}}}
 ],
 "resolve": {"axis": {"x": "independent", "y": "independent"}}},
{"title": "10% de Crack 40% de Co2", "width": 425, "height": 86, "data": {"name": "z2"},
 "layer": [
  {"mark": {"type": "line", "color": "#0000ff", "strokeWidth": 1},
   "encoding": {"x": {"field": "t", "type": "quantitative", "scale": {"domain": [-0.5, 3.5], "nice": false, "zero": false}, "axis": {"orient": "bottom", "values": [-0.5,0,0.5,1,1.5,2,2.5,3,3.5], "format": ".1f", "title": null}},
                "y": {"field": "v", "type": "quantitative", "scale": {"domain": [-0.0025, 0.002], "nice": false, "zero": false}, "axis": {"orient": "left", "values": [-0.0025,-0.002,-0.0015,-0.001,-0.0005,0,0.0005,0.001,0.0015,0.002], "format": ".4f", "title": null}}}},
  {"mark": {"type": "line", "opacity": 0},
   "encoding": {"x": {"field": "t", "type": "quantitative", "axis": {"orient": "top", "values": [-0.5,0,0.5,1,1.5,2,2.5,3,3.5], "labels": false, "title": null}},
                "y": {"field": "v", "type": "quantitative", "axis": {"orient": "right", "values": [-0.0025,-0.002,-0.0015,-0.001,-0.0005,0,0.0005,0.001,0.0015,0.002], "labels": false, "title": null}}}}
 ],
 "resolve": {"axis": {"x": "independent", "y": "independent"}}},
{"title": "50% de Crack 10% de Co2", "width": 450, "height": 86, "data": {"name": "x3"},
 "layer": [
  {"mark": {"type": "line", "color": "#0000ff", "strokeWidth": 1},
   "encoding": {"x": {"field": "t", "type": "quantitative", "scale": {"domain": [-0.5, 3.5], "nice": false, "zero": false}, "axis": {"orient": "bottom", "values": [-0.5,0,0.5,1,1.5,2,2.5,3,3.5], "format": ".1f", "title": null}},
                "y": {"field": "v", "type": "quantitative", "scale": {"domain": [-0.0015, 0.001], "nice": false, "zero": false}, "axis": {"orient": "left", "values": [-0.0015,-0.001,-0.0005,0,0.0005,0.001], "format": ".4f", "title": null}}}},
  {"mark": {"type": "line", "opacity": 0},
   "encoding": {"x": {"field": "t", "type": "quantitative", "axis": {"orient": "top", "values": [-0.5,0,0.5,1,1.5,2,2.5,3,3.5], "labels": false, "title": null}},
                "y": {"field": "v", "type": "quantitative", "axis": {"orient": "right", "values": [-0.0015,-0.001,-0.0005,0,0.0005,0.001], "labels": false, "title": null}}}}
 ],
 "resolve": {"axis": {"x": "independent", "y": "independent"}}},
{"title": "50% de Crack 10% de Co2", "width": 425, "height": 86, "data": {"name": "z3"},
 "layer": [
  {"mark": {"type": "line", "color": "#0000ff", "strokeWidth": 1},
   "encoding": {"x": {"field": "t", "type": "quantitative", "scale": {"domain": [-0.5, 3.5], "nice": false, "zero": false}, "axis": {"orient": "bottom", "values": [-0.5,0,0.5,1,1.5,2,2.5,3,3.5], "format": ".1f", "title": null}},
                "y": {"field": "v", "type": "quantitative", "scale": {"domain": [-0.0025, 0.002], "nice": false, "zero": false}, "axis": {"orient": "left", "values": [-0.0025,-0.002,-0.0015,-0.001,-0.0005,0,0.0005,0.001,0.0015,0.002], "format": ".4f", "title": null}}}},
  {"mark": {"type": "line", "opacity": 0},
   "encoding": {"x": {"field": "t", "type": "quantitative", "axis": {"orient": "top", "values": [-0.5,0,0.5,1,1.5,2,2.5,3,3.5], "labels": false, "title": null}},
                "y": {"field": "v", "type": "quantitative", "axis": {"orient": "right", "values": [-0.0025,-0.002,-0.0015,-0.001,-0.0005,0,0.0005,0.001,0.0015,0.002], "labels": false, "title": null}}}}
 ],
 "resolve": {"axis": {"x": "independent", "y": "independent"}}},
{"title": "50% de Crack 40% de Co2", "width": 450, "height": 86, "data": {"name": "x4"},
 "layer": [
  {"mark": {"type": "line", "color": "#0000ff", "strokeWidth": 1},
   "encoding": {"x": {"field": "t", "type": "quantitative", "scale": {"domain": [-0.5, 3.5], "nice": false, "zero": false}, "axis": {"orient": "bottom", "values": [-0.5,0,0.5,1,1.5,2,2.5,3,3.5], "format": ".1f", "title": null}},
                "y": {"field": "v", "type": "quantitative", "scale": {"domain": [-0.0015, 0.001], "nice": false, "zero": false}, "axis": {"orient": "left", "values": [-0.0015,-0.001,-0.0005,0,0.0005,0.001], "format": ".4f", "title": null}}}},
  {"mark": {"type": "line", "opacity": 0},
   "encoding": {"x": {"field": "t", "type": "quantitative", "axis": {"orient": "top", "values": [-0.5,0,0.5,1,1.5,2,2.5,3,3.5], "labels": false, "title": null}},
                "y": {"field": "v", "type": "quantitative", "axis": {"orient": "right", "values": [-0.0015,-0.001,-0.0005,0,0.0005,0.001], "labels": false, "title": null}}}}
 ],
 "resolve": {"axis": {"x": "independent", "y": "independent"}}},
{"title": "50% de Crack 40% de Co2", "width": 425, "height": 86, "data": {"name": "z4"},
 "layer": [
  {"mark": {"type": "line", "color": "#0000ff", "strokeWidth": 1},
   "encoding": {"x": {"field": "t", "type": "quantitative", "scale": {"domain": [-0.5, 3.5], "nice": false, "zero": false}, "axis": {"orient": "bottom", "values": [-0.5,0,0.5,1,1.5,2,2.5,3,3.5], "format": ".1f", "title": null}},
                "y": {"field": "v", "type": "quantitative", "scale": {"domain": [-0.0025, 0.002], "nice": false, "zero": false}, "axis": {"orient": "left", "values": [-0.0025,-0.002,-0.0015,-0.001,-0.0005,0,0.0005,0.001,0.0015,0.002], "format": ".4f", "title": null}}}},
  {"mark": {"type": "line", "opacity": 0},
   "encoding": {"x": {"field": "t", "type": "quantitative", "axis": {"orient": "top", "values": [-0.5,0,0.5,1,1.5,2,2.5,3,3.5], "labels": false, "title": null}},
                "y": {"field": "v", "type": "quantitative", "axis": {"orient": "right", "values": [-0.0025,-0.002,-0.0015,-0.001,-0.0005,0,0.0005,0.001,0.0015,0.002], "labels": false, "title": null}}}}
 ],
 "resolve": {"axis": {"x": "independent", "y": "independent"}}},
{"title": "80% de Crack 10% de Co2", "width": 450, "height": 86, "data": {"name": "x5"},
 "layer": [
  {"mark": {"type": "line", "color": "#0000ff", "strokeWidth": 1},
   "encoding": {"x": {"field": "t", "type": "quantitative", "scale": {"domain": [-0.5, 3.5], "nice": false, "zero": false}, "axis": {"orient": "bottom", "values": [-0.5,0,0.5,1,1.5,2,2.5,3,3.5], "format": ".1f", "title": null}},
                "y": {"field": "v", "type": "quantitative", "scale": {"domain": [-0.0015, 0.001], "nice": false, "zero": false}, "axis": {"orient": "left", "values": [-0.0015,-0.001,-0.0005,0,0.0005,0.001], "format": ".4f", "title": null}}}},
  {"mark": {"type": "line", "opacity": 0},
   "encoding": {"x": {"field": "t", "type": "quantitative", "axis": {"orient": "top", "values": [-0.5,0,0.5,1,1.5,2,2.5,3,3.5], "labels": false, "title": null}},
                "y": {"field": "v", "type": "quantitative", "axis": {"orient": "right", "values": [-0.0015,-0.001,-0.0005,0,0.0005,0.001], "labels": false, "title": null}}}}
 ],
 "resolve": {"axis": {"x": "independent", "y": "independent"}}},
{"title": "80% de Crack 10% de Co2", "width": 425, "height": 86, "data": {"name": "z5"},
 "layer": [
  {"mark": {"type": "line", "color": "#0000ff", "strokeWidth": 1},
   "encoding": {"x": {"field": "t", "type": "quantitative", "scale": {"domain": [-0.5, 3.5], "nice": false, "zero": false}, "axis": {"orient": "bottom", "values": [-0.5,0,0.5,1,1.5,2,2.5,3,3.5], "format": ".1f", "title": null}},
                "y": {"field": "v", "type": "quantitative", "scale": {"domain": [-0.0025, 0.002], "nice": false, "zero": false}, "axis": {"orient": "left", "values": [-0.0025,-0.002,-0.0015,-0.001,-0.0005,0,0.0005,0.001,0.0015,0.002], "format": ".4f", "title": null}}}},
  {"mark": {"type": "line", "opacity": 0},
   "encoding": {"x": {"field": "t", "type": "quantitative", "axis": {"orient": "top", "values": [-0.5,0,0.5,1,1.5,2,2.5,3,3.5], "labels": false, "title": null}},
                "y": {"field": "v", "type": "quantitative", "axis": {"orient": "right", "values": [-0.0025,-0.002,-0.0015,-0.001,-0.0005,0,0.0005,0.001,0.0015,0.002], "labels": false, "title": null}}}}
 ],
 "resolve": {"axis": {"x": "independent", "y": "independent"}}},
{"title": "80% de Crack 40% de Co2", "width": 450, "height": 86, "data": {"name": "x6"},
 "layer": [
  {"mark": {"type": "line", "color": "#0000ff", "strokeWidth": 1},
   "encoding": {"x": {"field": "t", "type": "quantitative", "scale": {"domain": [-0.5, 3.5], "nice": false, "zero": false}, "axis": {"orient": "bottom", "values": [-0.5,0,0.5,1,1.5,2,2.5,3,3.5], "format": ".1f", "title": null}},
                "y": {"field": "v", "type": "quantitative", "scale": {"domain": [-0.0015, 0.001], "nice": false, "zero": false}, "axis": {"orient": "left", "values": [-0.0015,-0.001,-0.0005,0,0.0005,0.001], "format": ".4f", "title": null}}}},
  {"mark": {"type": "line", "opacity": 0},
   "encoding": {"x": {"field": "t", "type": "quantitative", "axis": {"orient": "top", "values": [-0.5,0,0.5,1,1.5,2,2.5,3,3.5], "labels": false, "title": null}},
                "y": {"field": "v", "type": "quantitative", "axis": {"orient": "right", "values": [-0.0015,-0.001,-0.0005,0,0.0005,0.001], "labels": false, "title": null}}}}
 ],
 "resolve": {"axis": {"x": "independent", "y": "independent"}}},
{"title": "80% de Crack 40% de Co2", "width": 425, "height": 86, "data": {"name": "z6"},
 "layer": [
  {"mark": {"type": "line", "color": "#0000ff", "strokeWidth": 1},
   "encoding": {"x": {"field": "t", "type": "quantitative", "scale": {"domain": [-0.5, 3.5], "nice": false, "zero": false}, "axis": {"orient": "bottom", "values": [-0.5,0,0.5,1,1.5,2,2.5,3,3.5], "format": ".1f", "title": null}},
                "y": {"field": "v", "type": "quantitative", "scale": {"domain": [-0.0025, 0.002], "nice": false, "zero": false}, "axis": {"orient": "left", "values": [-0.0025,-0.002,-0.0015,-0.001,-0.0005,0,0.0005,0.001,0.0015,0.002], "format": ".4f", "title": null}}}},
  {"mark": {"type": "line", "opacity": 0},
   "encoding": {"x": {"field": "t", "type": "quantitative", "axis": {"orient": "top", "values": [-0.5,0,0.5,1,1.5,2,2.5,3,3.5], "labels": false, "title": null}},
                "y": {"field": "v", "type": "quantitative", "axis": {"orient": "right", "values": [-0.0025,-0.002,-0.0015,-0.001,-0.0005,0,0.0005,0.001,0.0015,0.002], "labels": false, "title": null}}}}
 ],
 "resolve": {"axis": {"x": "independent", "y": "independent"}}}
],
"config": {
 "view": {"stroke": "#000000", "strokeWidth": 1},
 "axis": {"domain": false, "grid": false, "ticks": true, "tickColor": "#000000", "tickSize": 4, "offset": -4, "tickWidth": 1, "labelFont": "DejaVu Sans", "labelFontSize": 11.5, "labelColor": "#000000", "labelFlush": false, "labelOverlap": false, "labelBound": false},
 "axisX": {"labelPadding": 1.5},
 "axisY": {"labelPadding": 4.5},
 "title": {"font": "DejaVu Sans", "fontSize": 14, "fontWeight": "normal", "color": "#000000", "anchor": "middle", "frame": "group", "offset": -2, "baseline": "alphabetic"}
}
}
